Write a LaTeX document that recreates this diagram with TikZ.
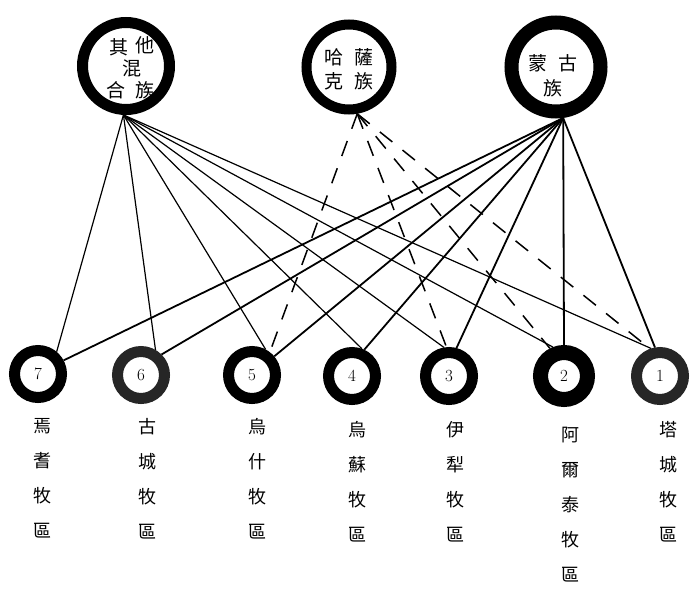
\documentclass[tikz,border=0pt]{standalone}
\usepackage{fontspec}
\newfontfamily\cjk{Noto Sans CJK TC}
\begin{document}
\begin{tikzpicture}[x=1pt,y=-1pt]
\tikzset{
 ring/.style={circle, draw=black, inner sep=0pt},
 sring/.style={ring, minimum size=47pt, line width=11pt, font=\fontsize{17}{17}\selectfont},
 linkA/.style={line width=1.2pt},
 linkB/.style={line width=1.8pt},
 linkK/.style={line width=1.5pt, dash pattern=on 16pt off 13pt},
 topch/.style={font=\cjk\fontsize{19}{19}\selectfont, inner sep=0pt},
 lab/.style={font=\cjk\fontsize{18}{35}\selectfont, align=center, anchor=north, inner sep=0pt}
}
\useasboundingbox (0,0) rectangle (693,591);
% top circles
\node[ring, minimum size=87pt, line width=11pt] (O1) at (126,66) {};
\node[ring, minimum size=85pt, line width=10pt] (O2) at (349,67) {};
\node[ring, minimum size=89pt, line width=14pt] (O3) at (556,67) {};
\node[topch] (t11) at (119,47) {其};
\node[topch] (t12) at (145,45) {他};
\node[topch] (t13) at (132,68) {混};
\node[topch] (t14) at (116,90) {合};
\node[topch] (t15) at (145,90) {族};
\node[topch] (t21) at (334,57) {哈};
\node[topch] (t22) at (364,57) {薩};
\node[topch] (t23) at (334,81) {克};
\node[topch] (t24) at (364,81) {族};
\node[topch] (t31) at (538,63) {蒙};
\node[topch] (t32) at (568,63) {古};
\node[topch] (t33) at (553,88) {族};
% bottom circles
\node[sring] (b7) at (38,374) {7};
\node[sring, draw=black!85] (b6) at (141,375) {6};
\node[sring] (b5) at (252,375) {5};
\node[sring] (b4) at (352,376) {4};
\node[sring] (b3) at (449,376) {3};
\node[sring, minimum size=47pt, line width=15pt] (b2) at (564,376) {2};
\node[sring, draw=black!85] (b1) at (660,376) {1};
% labels
\node[lab] (l7) at (42,418) {焉\\耆\\牧\\區};
\node[lab] (l6) at (147,418) {古\\城\\牧\\區};
\node[lab] (l5) at (257,418) {烏\\什\\牧\\區};
\node[lab] (l4) at (357,421) {烏\\蘇\\牧\\區};
\node[lab] (l3) at (455,421) {伊\\犁\\牧\\區};
\node[lab] (l2) at (570,427) {阿\\爾\\泰\\牧\\區};
\node[lab] (l1) at (668,421) {塔\\城\\牧\\區};
% links from 其他混合族
\draw[linkA] (O1.-93) -- (b7.50);
\draw[linkA] (O1.-93) -- (b6.60);
\draw[linkA] (O1.-93) -- (b5.62);
\draw[linkA] (O1.-93) -- (b4.70);
\draw[linkA] (O1.-93) -- (b3.100);
\draw[linkA] (O1.-93) -- (b2.111);
\draw[linkA] (O1.-93) -- (b1.108);
% links from 蒙古族
\draw[linkB] (O3.-82) -- (b7.28);
\draw[linkB] (O3.-82) -- (b6.45);
\draw[linkB] (O3.-82) -- (b5.40);
\draw[linkB] (O3.-82) -- (b4.65);
\draw[linkB] (O3.-82) -- (b3.75);
\draw[linkB] (O3.-82) -- (b2.90);
\draw[linkB] (O3.-82) -- (b1.100);
% links from 哈薩克族
\draw[linkK] (O2.-80) -- (b5.52);
\draw[linkK] (O2.-80) -- (b3.95);
\draw[linkK] (O2.-80) -- (b2.117);
\draw[linkK] (O2.-80) -- (b1.110);
\end{tikzpicture}
\end{document}
